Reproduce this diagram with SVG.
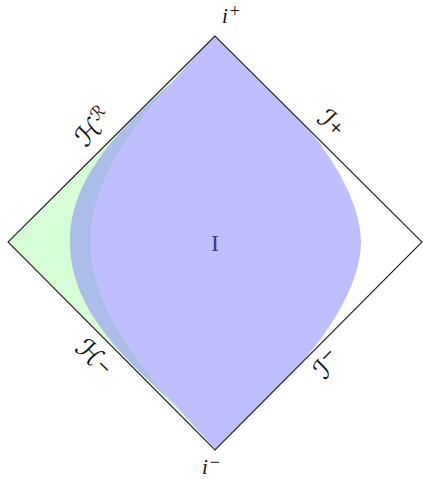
<svg xmlns="http://www.w3.org/2000/svg" width="423" height="479" viewBox="0 0 423 479">
<style>
.cal{font-family:"DejaVu Serif","DejaVu Sans",serif;font-size:27px;fill:#111}
.sup{font-size:17px}
.mi{font-family:"Liberation Serif",serif;font-style:italic;font-size:21px;fill:#111}
.op{font-family:"Liberation Serif",serif;font-style:normal;font-size:18px}
</style>
<defs>
<clipPath id="dia"><polygon points="215,36 8,242 215,450 422,242"/></clipPath>
</defs>
<g id="regions" clip-path="url(#dia)">
<polygon id="green" fill="#d7fdd7" points="215,36 8,242 215,450"/>
<path id="overlap" fill="#abbde8" d="M215,44 C150,104 70,160 70,242 C70,324 150,380 215,440 L215,448 C150,379 91,314 91,242 C91,170 150,105 215,36 Z"/>
<path id="blue" fill="#bfbfff" d="M215,36 C150,105 91,170 91,242 C91,314 150,379 215,448 L215,452 L300,364 C328,334 361,284 361,242 C361,200 328,150 300,120 L215,34 Z"/>
</g>
<g id="diamond"><polygon points="215,36 8,242 215,450 422,242" fill="none" stroke="#222" stroke-width="1.1"/></g>
<g id="region-I"><text x="215" y="251" text-anchor="middle" font-family="Liberation Serif, serif" font-size="24" fill="#3c3c7c">I</text></g>
<g id="i-plus"><text class="mi" x="222" y="23">i<tspan class="op" dx="2" dy="-6">+</tspan></text></g>
<g id="i-minus"><text class="mi" x="202" y="474">i<tspan class="op" dx="2" dy="-6">−</tspan></text></g>
<g id="H-R"><text class="cal" transform="translate(100,134) rotate(-45)" text-anchor="middle">ℋ<tspan class="sup" dy="-11">ℛ</tspan></text></g>
<g id="scri-plus"><text class="cal" transform="translate(325,130) rotate(45)" text-anchor="middle">ℐ<tspan class="sup" dy="-4">+</tspan></text></g>
<g id="H-minus"><text class="cal" transform="translate(88,364) rotate(45)" text-anchor="middle">ℋ<tspan class="sup" dy="-4">−</tspan></text></g>
<g id="scri-minus"><text class="cal" transform="translate(334,371) rotate(-45)" text-anchor="middle">ℐ<tspan class="sup" dy="-11">−</tspan></text></g>
</svg>
